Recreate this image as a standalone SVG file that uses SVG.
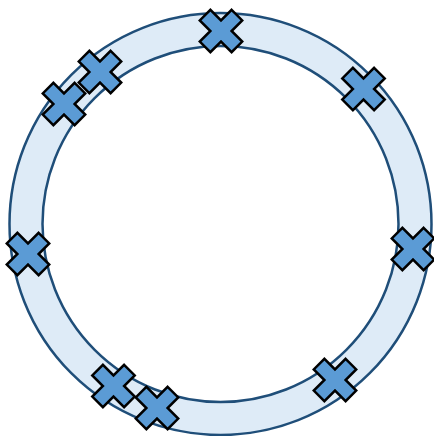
<svg xmlns="http://www.w3.org/2000/svg" xmlns:xlink="http://www.w3.org/1999/xlink" width="434" height="436" viewBox="0 0 434 436">
<style>
.ring{fill:#deebf7;stroke:#1f4e79;stroke-width:2.5;fill-rule:evenodd}
.x{fill:#5b9bd5;stroke:#000;stroke-width:2.5;stroke-linejoin:miter}
</style>
<defs>
<polygon id="cross" points="-7.5,-22.5 7.5,-22.5 7.5,-7.5 22.5,-7.5 22.5,7.5 7.5,7.5 7.5,22.5 -7.5,22.5 -7.5,7.5 -22.5,7.5 -22.5,-7.5 -7.5,-7.5" transform="rotate(45)"/>
</defs>
<rect width="434" height="436" fill="#fff"/>
<g id="ring">
<path class="ring" d="M9.5,224a211,211 0 1,0 422,0a211,211 0 1,0 -422,0Z M42.5,224a178,178 0 1,0 356,0a178,178 0 1,0 -356,0Z"/>
</g>
<g id="connectors"/>
<g id="x1" class="x" transform="translate(221,31)"><use xlink:href="#cross"/></g>
<g id="x2" class="x" transform="translate(100,72)"><use xlink:href="#cross"/></g>
<g id="x3" class="x" transform="translate(64,104)"><use xlink:href="#cross"/></g>
<g id="x4" class="x" transform="translate(363.5,89)"><use xlink:href="#cross"/></g>
<g id="x5" class="x" transform="translate(28,254)"><use xlink:href="#cross"/></g>
<g id="x6" class="x" transform="translate(413,249)"><use xlink:href="#cross"/></g>
<g id="x7" class="x" transform="translate(113.5,386)"><use xlink:href="#cross"/></g>
<g id="x8" class="x" transform="translate(157,408)"><use xlink:href="#cross"/></g>
<g id="x9" class="x" transform="translate(335,380)"><use xlink:href="#cross"/></g>
</svg>
